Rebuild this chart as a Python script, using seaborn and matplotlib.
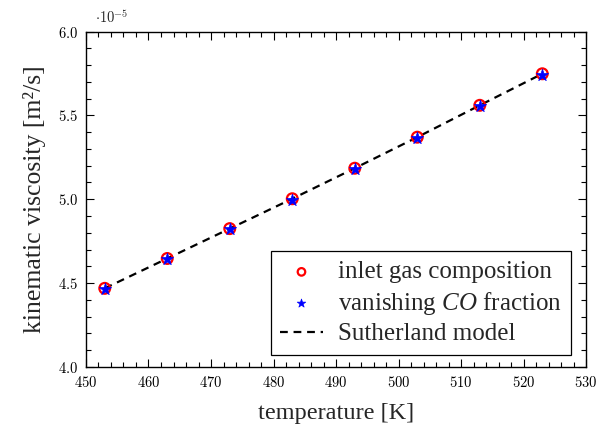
import matplotlib
matplotlib.use("Agg")
import matplotlib.pyplot as plt
from matplotlib.ticker import MultipleLocator, FuncFormatter
import seaborn as sns
import pandas as pd

# Kinematic viscosity of the gas mixture over temperature
temperature = [453, 463, 473, 483, 493, 503, 513, 523]
nu_inlet = [4.469e-5, 4.647e-5, 4.825e-5, 5.003e-5, 5.185e-5, 5.370e-5, 5.560e-5, 5.748e-5]
nu_no_co = [4.465e-5, 4.643e-5, 4.820e-5, 4.998e-5, 5.180e-5, 5.364e-5, 5.553e-5, 5.741e-5]
nu_sutherland = [4.469e-5, 4.647e-5, 4.825e-5, 5.003e-5, 5.185e-5, 5.370e-5, 5.560e-5, 5.748e-5]

df = pd.DataFrame({"T": temperature, "inlet": nu_inlet,
                   "noco": nu_no_co, "suth": nu_sutherland})

sns.set_theme(style="ticks")
plt.rcParams["font.family"] = ["Liberation Serif", "DejaVu Serif"]
plt.rcParams["mathtext.fontset"] = "custom"
plt.rcParams["mathtext.rm"] = "cmr10"
plt.rcParams["mathtext.it"] = "Liberation Serif:italic"

fig = plt.figure(figsize=(5.98, 4.28), dpi=100)
ax = fig.add_axes([0.1438, 0.1425, 0.8362, 0.7839])

sns.lineplot(data=df, x="T", y="suth", ax=ax, color="black", lw=1.6,
             linestyle=(0, (3.5, 2.6)), label="Sutherland model", zorder=2)
sns.scatterplot(data=df, x="T", y="inlet", ax=ax, marker="o", s=60,
                facecolor="none", edgecolor="red", linewidth=1.6,
                label="inlet gas composition", zorder=3)
sns.scatterplot(data=df, x="T", y="noco", ax=ax, marker="*", s=85,
                color="blue", edgecolor="blue", linewidth=0.5,
                label=r"vanishing $\mathit{CO}$ fraction", zorder=4)

ax.set_xlim(450, 530)
ax.set_ylim(4.0e-5, 6.0e-5)
ax.xaxis.set_major_locator(MultipleLocator(10))
ax.xaxis.set_minor_locator(MultipleLocator(2))
ax.yaxis.set_major_locator(MultipleLocator(0.5e-5))
ax.yaxis.set_minor_locator(MultipleLocator(0.1e-5))
ax.xaxis.set_major_formatter(FuncFormatter(lambda v, p: r"$\mathrm{%d}$" % round(v)))
ax.yaxis.set_major_formatter(FuncFormatter(lambda v, p: r"$\mathrm{%.1f}$" % (v / 1e-5)))

ax.tick_params(which="both", direction="in", top=True, right=True,
               width=0.8, colors="black", labelsize=10.5, pad=6)
ax.tick_params(which="major", length=6)
ax.tick_params(which="minor", length=3.5)
for s in ax.spines.values():
    s.set_visible(True)
    s.set_linewidth(1.0)
    s.set_color("black")

ax.text(0.018, 1.015, r"$\cdot \mathrm{10}^{-5}$", transform=ax.transAxes,
        fontsize=10.5, ha="left", va="bottom")

ax.set_xlabel("temperature [K]", fontsize=17.5, labelpad=9)
ax.set_ylabel("kinematic viscosity [m²/s]", fontsize=18.5, labelpad=8)

handles, labels = ax.get_legend_handles_labels()
order = [1, 2, 0]
leg = ax.legend([handles[i] for i in order], [labels[i] for i in order],
                loc="lower right", bbox_to_anchor=(0.97, 0.036),
                borderaxespad=0, markerscale=0.7,
                fontsize=18, frameon=True, fancybox=False,
                edgecolor="black", framealpha=1, borderpad=0.38,
                labelspacing=0.25, handlelength=1.7, handletextpad=0.6)
leg.get_frame().set_linewidth(0.9)

fig.savefig("out.png", dpi=100)
